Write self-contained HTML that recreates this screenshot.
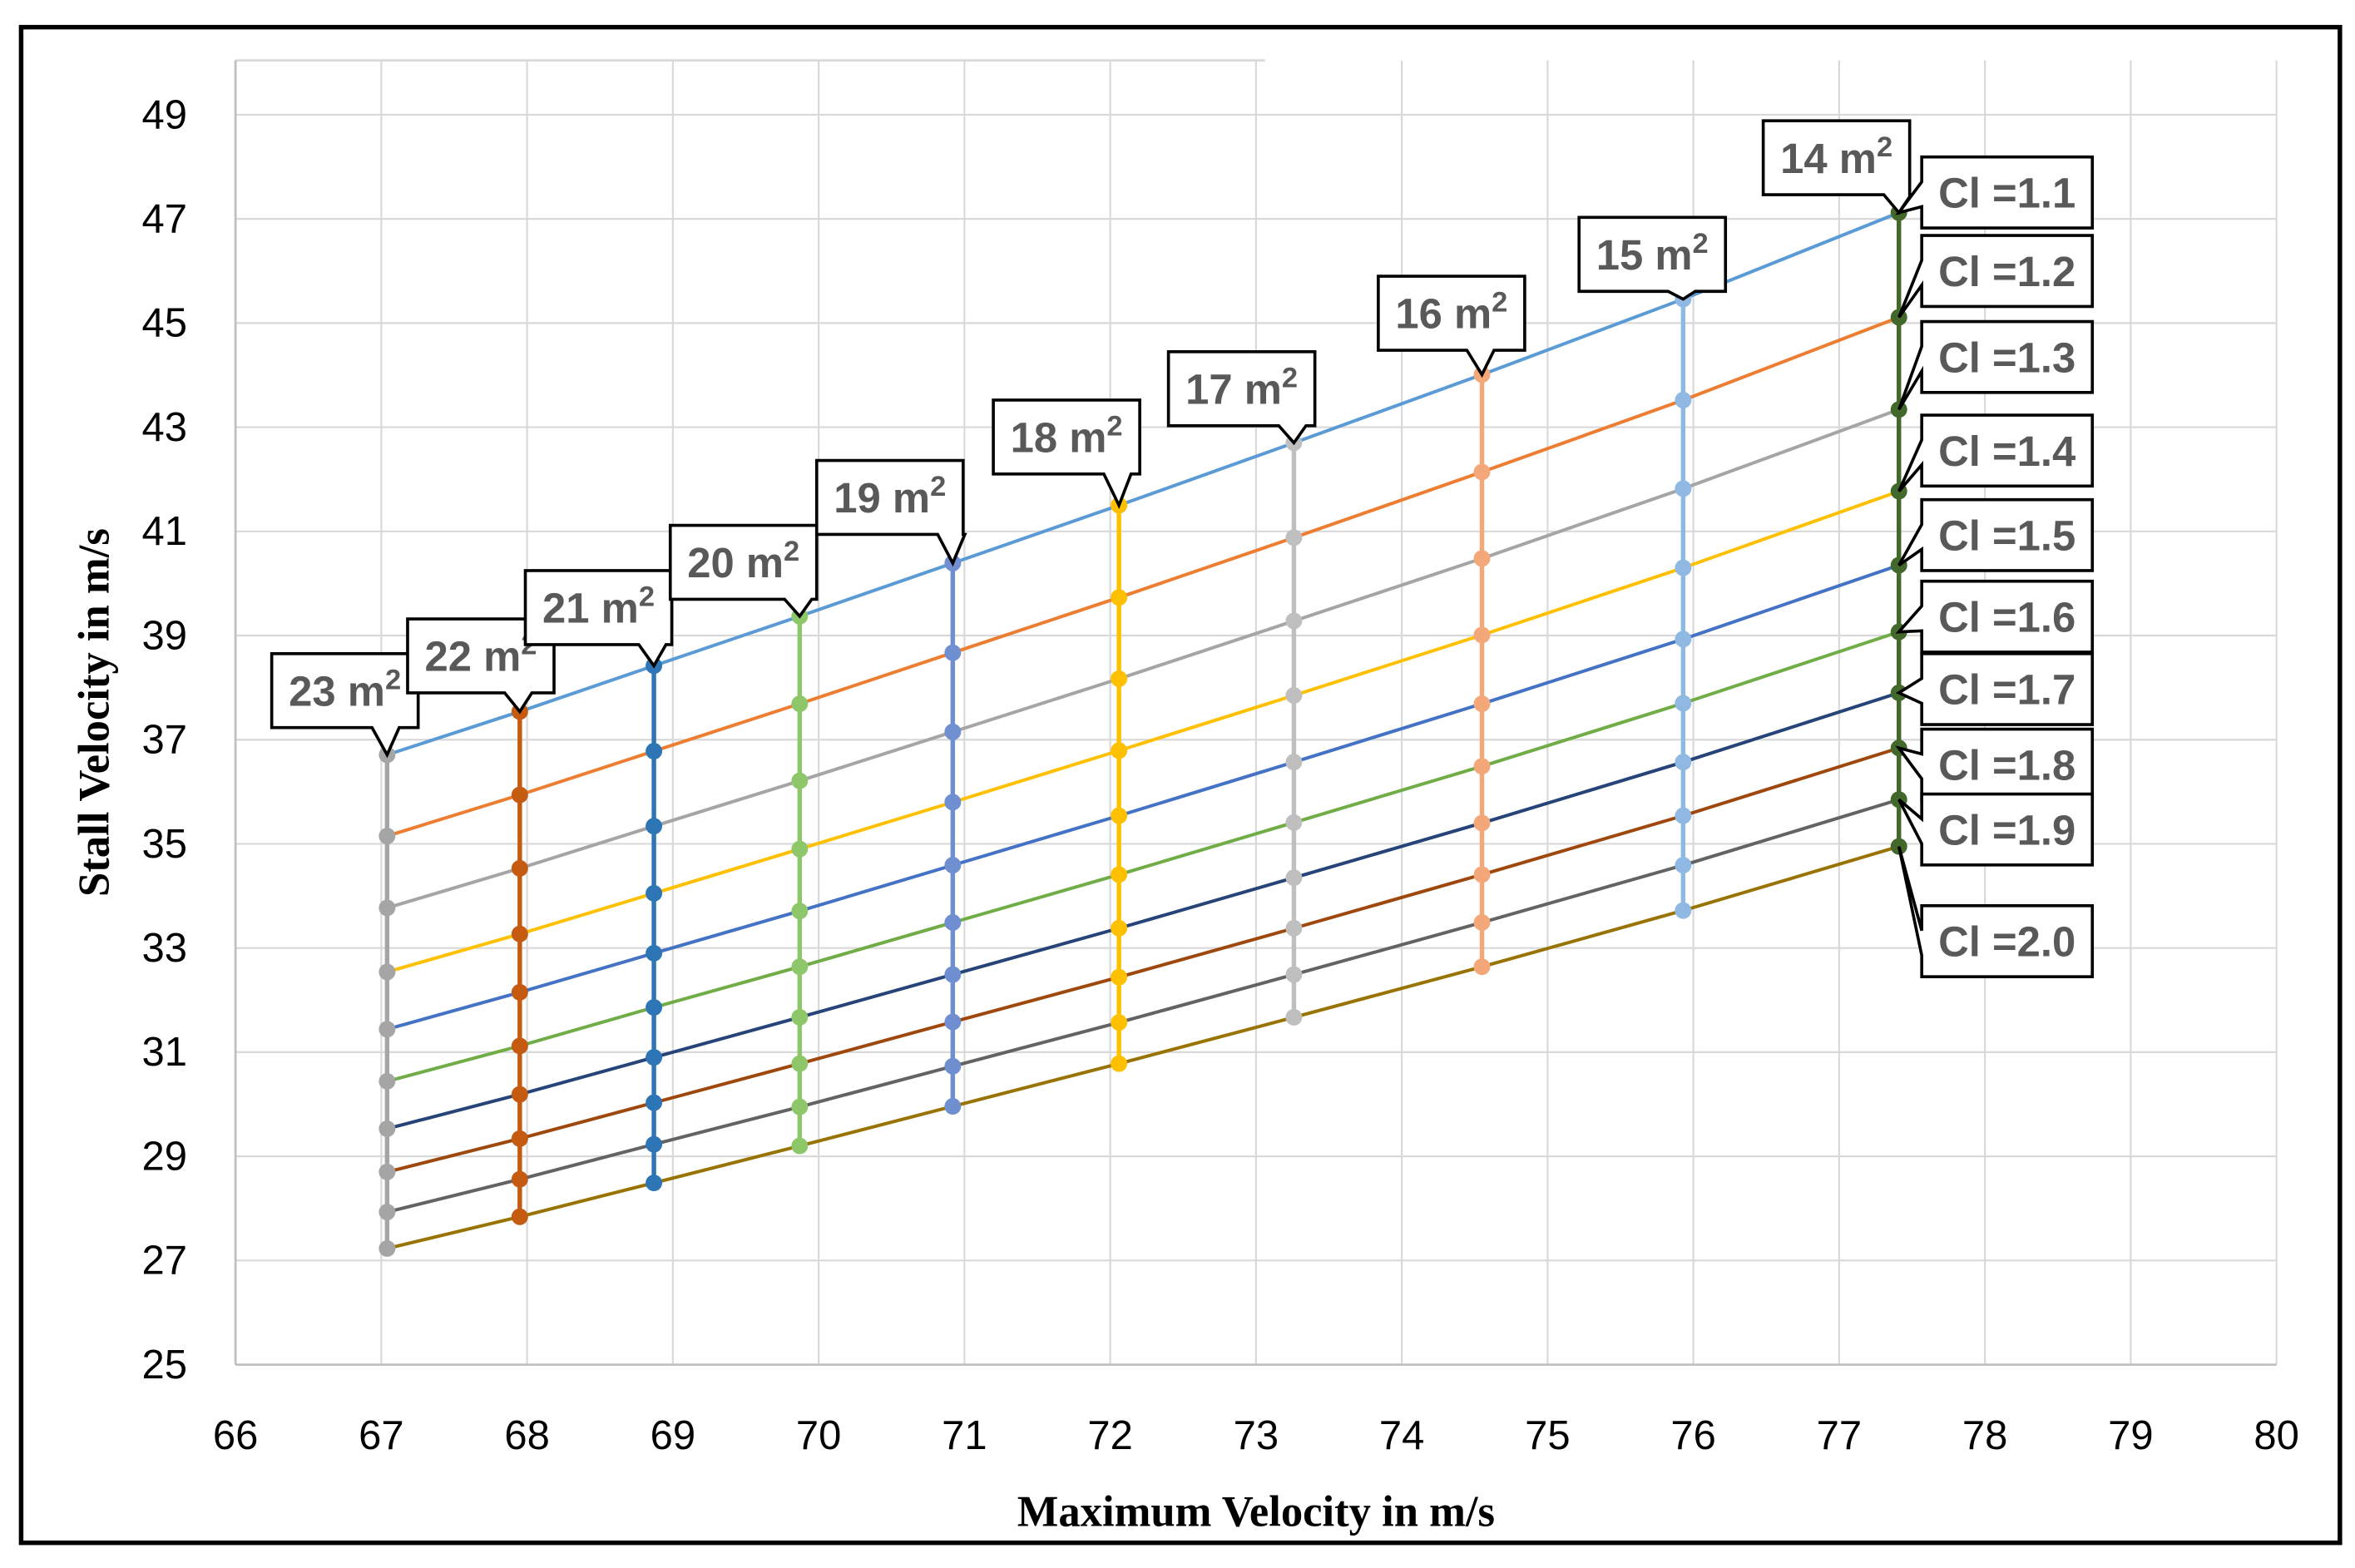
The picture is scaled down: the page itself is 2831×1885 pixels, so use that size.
<!DOCTYPE html>
<html><head><meta charset="utf-8"><style>
html,body{margin:0;padding:0;background:#fff;}
svg{display:block;}
</style></head><body>
<svg id="chart" width="2831" height="1885" viewBox="0 0 1560 1038.7" preserveAspectRatio="none" xmlns="http://www.w3.org/2000/svg">
<rect x="14" y="18" width="1536" height="1004" fill="#fff" stroke="#000" stroke-width="3"/>
<g id="grid"></g><g id="series"></g><g id="labels"></g>
<text x="832" y="1011" text-anchor="middle" font-family="Liberation Serif, serif" font-weight="bold" font-size="29">Maximum Velocity in m/s</text>
<text transform="translate(72,472) rotate(-90)" text-anchor="middle" font-family="Liberation Serif, serif" font-weight="bold" font-size="29">Stall Velocity in m/s</text>
</svg>
<script>
const areas=["23","22","21","20","19","18","17","16","15","14"];
const maxVel=[67.04,67.95,68.87,69.87,70.92,72.06,73.26,74.55,75.93,77.41];
const clLabels=["1.1","1.2","1.3","1.4","1.5","1.6","1.7","1.8","1.9","2.0"];
// stallVel[area][cl]
const stallVel=[
[36.71,35.15,33.77,32.54,31.44,30.44,29.53,28.70,27.93,27.23],
[37.54,35.94,34.53,33.27,32.15,31.12,30.19,29.34,28.56,27.84],
[38.42,36.78,35.34,34.05,32.90,31.86,30.90,30.03,29.23,28.49],
[39.37,37.69,36.21,34.90,33.71,32.64,31.67,30.78,29.95,29.20],
[40.39,38.67,37.15,35.80,34.59,33.49,32.49,31.58,30.73,29.96],
[41.50,39.73,38.17,36.79,35.54,34.41,33.38,32.44,31.57,30.78],
[42.70,40.88,39.28,37.85,36.57,35.41,34.35,33.38,32.49,31.67],
[44.01,42.14,40.48,39.01,37.69,36.49,35.40,34.41,33.49,32.64],
[45.46,43.52,41.82,40.30,38.93,37.70,36.57,35.54,34.59,33.72],
[47.12,45.11,43.34,41.77,40.35,39.07,37.90,36.84,35.85,34.95]];
const xTicks=[66,67,68,69,70,71,72,73,74,75,76,77,78,79,80];
const yTicks=[25,27,29,31,33,35,37,39,41,43,45,47,49];
const clColors=["#5b9bd5","#ed7d31","#a5a5a5","#ffc000","#4472c4","#70ad47","#264478","#9e480e","#636363","#997300"];
const areaColors=["#a5a5a5","#c55a11","#2e75b6","#8dc76a","#6f8fd0","#ffc000","#bfbfbf","#f4a87a","#8fb9e3","#43682b"];
const areaBoxes=[[180,433],[270,410],[348,378],[444,348],[541,305],[658,265],[774,233],[913,183],[1046,144],[1168,80]];
const clBoxY=[104,156,213,275,331,385,433,483,526,600];
const X=v=>156+(v-66)*(1352/14);
const Y=v=>904-(v-25)*34.5;
const NS="http://www.w3.org/2000/svg";
function mk(t,a,p){const e=document.createElementNS(NS,t);for(const k in a)e.setAttribute(k,a[k]);p.appendChild(e);return e;}
const grid=document.getElementById('grid'),ser=document.getElementById('series'),lab=document.getElementById('labels');
mk('line',{x1:156,y1:40,x2:838,y2:40,stroke:'#d9d9d9','stroke-width':1.5},grid);
xTicks.forEach(t=>{const l=mk('line',{x1:X(t),y1:40,x2:X(t),y2:904,stroke:'#d9d9d9','stroke-width':1.2},grid);

const tx=mk('text',{x:X(t),y:960,'text-anchor':'middle','font-family':'Liberation Sans, sans-serif','font-size':27,fill:'#000'},grid);tx.textContent=t;
});
yTicks.forEach(t=>{const l=mk('line',{x1:156,y1:Y(t),x2:1508,y2:Y(t),stroke:'#d9d9d9','stroke-width':1.2},grid);

const tx=mk('text',{x:124,y:Y(t)+9,'text-anchor':'end','font-family':'Liberation Sans, sans-serif','font-size':27,fill:'#000'},grid);tx.textContent=t;
});
mk('line',{x1:156,y1:40,x2:156,y2:904,stroke:'#bfbfbf','stroke-width':1.5},grid);
mk('line',{x1:156,y1:904,x2:1508,y2:904,stroke:'#bfbfbf','stroke-width':1.5},grid);
// Cl lines
clLabels.forEach((c,j)=>{const pts=maxVel.map((m,i)=>X(m)+','+Y(stallVel[i][j])).join(' ');
const p=mk('polyline',{points:pts,fill:'none',stroke:clColors[j],'stroke-width':2.2},ser);
});
// area lines
areas.forEach((a,i)=>{const pts=stallVel[i].map(v=>X(maxVel[i])+','+Y(v)).join(' ');
const p=mk('polyline',{points:pts,fill:'none',stroke:areaColors[i],'stroke-width':3},ser);

stallVel[i].forEach(v=>{const c=mk('circle',{cx:X(maxVel[i]),cy:Y(v),r:5.5,fill:areaColors[i]},ser);
});});
function box(x,y,w,h,txt,px,py,name,side){
const g=mk('g',{},lab);
let d;
if(side==='bottom'){const cx=Math.min(Math.max(px,x+12),x+w-4);
d=`M${x},${y} H${x+w} V${y+h} H${cx+8} L${px},${py} L${cx-10},${y+h} H${x} Z`;}
else{d=`M${x},${y} H${x+w} V${y+h} H${x} V${y+h*0.7} L${px},${py} L${x},${y+h*0.35} Z`;}
mk('path',{d:d,fill:'#fff',stroke:'#000','stroke-width':2},g);
const t=mk('text',{x:x+w/2,y:y+h/2+10,'text-anchor':'middle','font-family':'Liberation Sans, sans-serif','font-weight':'bold','font-size':28,fill:'#595959'},g);
t.innerHTML=txt;}
areas.forEach((a,i)=>{const b=areaBoxes[i];box(b[0],b[1],97,49,a+' m<tspan font-size="19" dy="-11">2</tspan>',X(maxVel[i]),Y(stallVel[i][0]),'area-callout-'+a,'bottom');});
clLabels.forEach((c,j)=>{box(1273,clBoxY[j],113,47,'Cl ='+c,X(maxVel[9]),Y(stallVel[9][j]),'cl-callout-'+c,'left');});
</script>
</body></html>
